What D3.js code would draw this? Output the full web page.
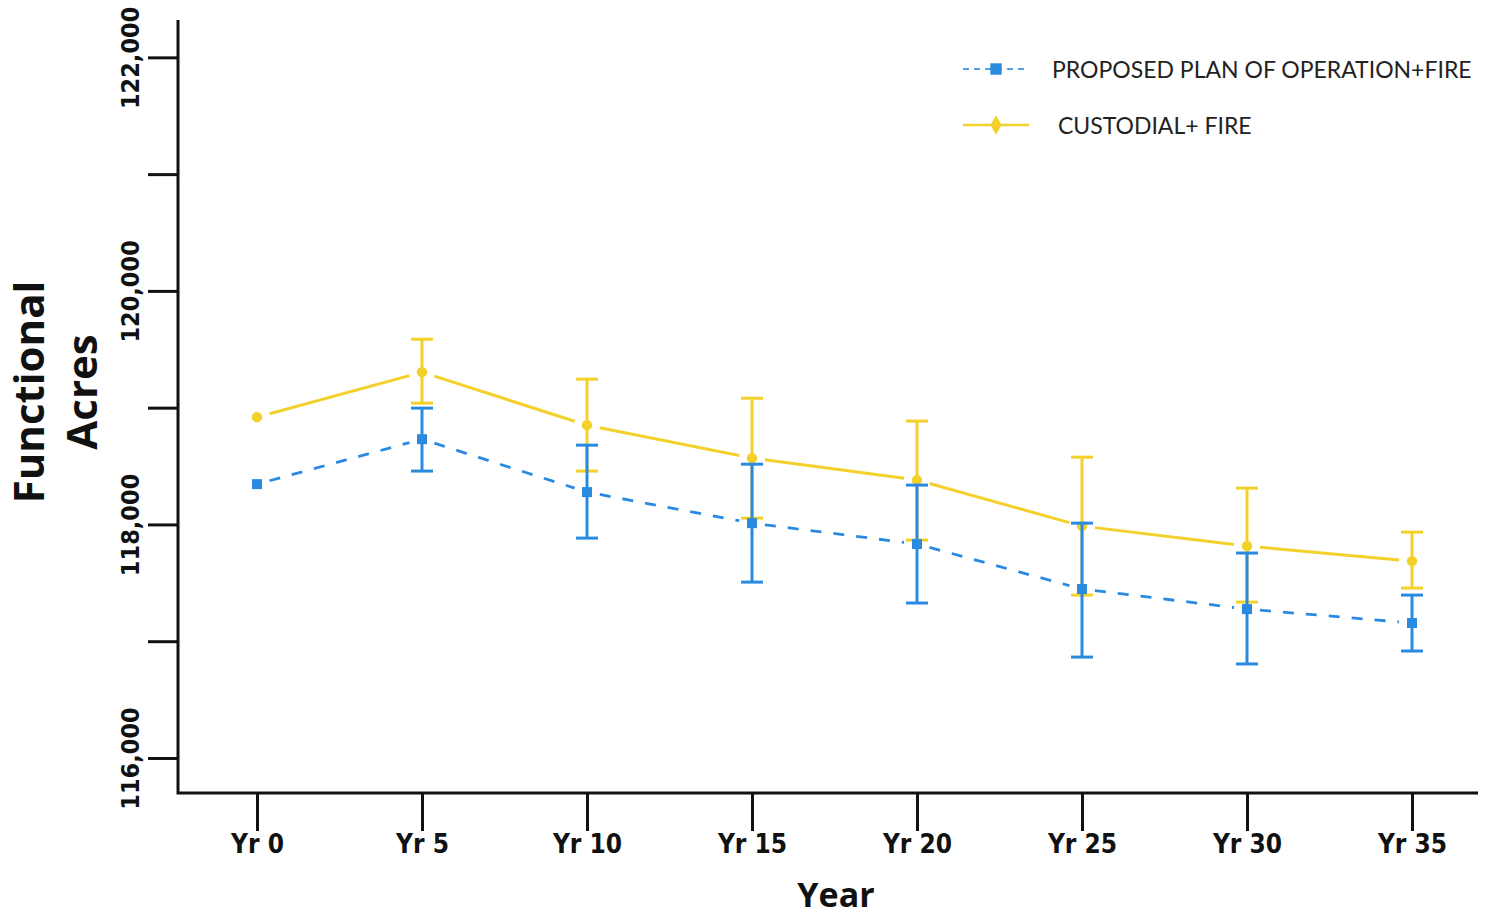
<!DOCTYPE html>
<html>
<head>
<meta charset="utf-8">
<script src="https://cdn.jsdelivr.net/npm/d3@7"></script>
<style>
  html, body { margin: 0; padding: 0; background: #fff; }
  svg { display: block; }
</style>
</head>
<body>
<svg id="chart" width="1493" height="917"></svg>
<script>
// ---- data ----
const years = ["Yr 0", "Yr 5", "Yr 10", "Yr 15", "Yr 20", "Yr 25", "Yr 30", "Yr 35"];
const proposedMean = [118345, 118730, 118277, 118011, 117832, 117447, 117275, 117156];
const proposedLow  = [null, 118457, 117883, 117506, 117327, 116864, 116805, 116916];
const proposedHigh = [null, 118996, 118679, 118516, 118337, 118011, 117755, 117395];
const custodialMean = [118919, 119304, 118850, 118568, 118380, 117986, 117815, 117686];
const custodialLow  = [null, 119039, 118457, 118054, 117866, 117395, 117335, 117455];
const custodialHigh = [null, 119586, 119244, 119081, 118885, 118576, 118311, 117934];
const yTickValues = [116000, 117000, 118000, 119000, 120000, 121000, 122000];
const yTickLabels = ["116,000", "", "118,000", "", "120,000", "", "122,000"];
const seriesNames = ["PROPOSED PLAN OF OPERATION+FIRE", " CUSTODIAL+ FIRE"];

const BLUE = "#2a8ae0";
const YELLOW = "#f4d02a";

const svg = d3.select("#chart");

const x = d3.scalePoint().domain(years).range([257, 1412]);
const y = d3.scaleLinear().domain([115700, 122320]).range([793, 20]);
const axisLeft = 178, axisRight = 1478;

// ---- axes ----
const yAxis = d3.axisLeft(y).tickValues(yTickValues).tickSize(30)
  .tickFormat((d, i) => yTickLabels[i]);
const gy = svg.append("g").attr("transform", `translate(${axisLeft},0)`).call(yAxis);
gy.select(".domain").remove();
gy.selectAll(".tick line").attr("stroke", "#111").attr("stroke-width", 3);
gy.selectAll(".tick text")
  .attr("x", null).attr("dy", null)
  .attr("transform", "translate(-39,0) rotate(-90)")
  .attr("text-anchor", "middle")
  .attr("font-family", "'DejaVu Sans Condensed', 'DejaVu Sans'")
  .attr("font-stretch", "condensed")
  .attr("font-weight", "bold")
  .attr("font-size", 25)
  .attr("fill", "#111");

const xAxis = d3.axisBottom(x).tickSize(38).tickSizeOuter(0);
const gx = svg.append("g").attr("transform", `translate(0,${y.range()[0]})`).call(xAxis);
gx.select(".domain").remove();
gx.selectAll(".tick line").attr("stroke", "#111").attr("stroke-width", 3);
gx.selectAll(".tick text")
  .attr("y", 60).attr("dy", null)
  .attr("font-family", "'DejaVu Sans Condensed', 'DejaVu Sans'")
  .attr("font-stretch", "condensed")
  .attr("font-weight", "bold")
  .attr("font-size", 26)
  .attr("fill", "#111");

// axis lines
svg.append("path")
  .attr("d", d3.line()([[axisLeft, y.range()[1]], [axisLeft, y.range()[0]], [axisRight, y.range()[0]]]))
  .attr("fill", "none").attr("stroke", "#111").attr("stroke-width", 3)
  .attr("stroke-linejoin", "miter");

// axis titles
const titleFont = "'Open Sans', 'DejaVu Sans', sans-serif";
svg.append("text").attr("transform", "translate(44,392) rotate(-90)")
  .attr("text-anchor", "middle").attr("font-family", titleFont)
  .attr("font-weight", "bold").attr("font-size", 42).attr("fill", "#111")
  .text("Functional");
svg.append("text").attr("transform", "translate(97,392) rotate(-90)")
  .attr("text-anchor", "middle").attr("font-family", titleFont)
  .attr("font-weight", "bold").attr("font-size", 42).attr("fill", "#111")
  .text("Acres");
svg.append("text").attr("x", 836).attr("y", 907)
  .attr("text-anchor", "middle").attr("font-family", titleFont)
  .attr("font-weight", "bold").attr("font-size", 34).attr("fill", "#111")
  .text("Year");

// ---- series ----
function drawSeries(mean, low, high, color, dashed, marker) {
  const g = svg.append("g");
  const pts = mean.map((v, i) => [x(years[i]), y(v)]);
  const trim = 13;
  for (let i = 0; i < pts.length - 1; i++) {
    const [x0, y0] = pts[i], [x1, y1] = pts[i + 1];
    const dx = x1 - x0, dy = y1 - y0, len = Math.hypot(dx, dy);
    const ux = dx / len, uy = dy / len;
    g.append("path")
      .attr("d", d3.line()([[x0 + ux * trim, y0 + uy * trim], [x1 - ux * trim, y1 - uy * trim]]))
      .attr("fill", "none").attr("stroke", color)
      .attr("stroke-width", dashed ? 2.8 : 3)
      .attr("stroke-dasharray", dashed ? "11,12" : null);
  }
  // error bars
  years.forEach((yr, i) => {
    if (low[i] == null) return;
    const cx = x(yr), yl = y(low[i]), yh = y(high[i]);
    g.append("line").attr("x1", cx).attr("x2", cx).attr("y1", yh).attr("y2", yl)
      .attr("stroke", color).attr("stroke-width", 3);
    [yl, yh].forEach(yy => g.append("line").attr("x1", cx - 11).attr("x2", cx + 11)
      .attr("y1", yy).attr("y2", yy).attr("stroke", color).attr("stroke-width", 3));
  });
  // markers
  g.selectAll("path.m").data(pts).join("path").attr("class", "m")
    .attr("transform", d => `translate(${d[0]},${d[1]})`)
    .attr("d", d3.symbol().type(marker).size(marker === d3.symbolSquare ? 100 : 85))
    .attr("fill", color);
}

drawSeries(custodialMean, custodialLow, custodialHigh, YELLOW, false, d3.symbolCircle);
drawSeries(proposedMean, proposedLow, proposedHigh, BLUE, true, d3.symbolSquare);

// ---- legend ----
const legend = svg.append("g");
const legendItems = [
  { name: seriesNames[0], color: BLUE, dashed: true, marker: d3.symbolSquare, y: 69 },
  { name: seriesNames[1], color: YELLOW, dashed: false, marker: d3.symbolDiamond, y: 125 }
];
legendItems.forEach(it => {
  legend.append("line").attr("x1", 963).attr("x2", 1029).attr("y1", it.y).attr("y2", it.y)
    .attr("stroke", it.color).attr("stroke-width", it.dashed ? 2 : 2.5)
    .attr("stroke-dasharray", it.dashed ? "6,5" : null).attr("opacity", it.dashed ? 0.8 : 1);
  legend.append("path").attr("transform", `translate(996,${it.y})`)
    .attr("d", d3.symbol().type(it.marker).size(it.dashed ? 130 : 110)).attr("fill", it.color);
  legend.append("text").attr("x", 1052).attr("y", it.y + 9)
    .attr("font-family", "'Lato', 'Open Sans', sans-serif").attr("font-size", 23)
    .attr("fill", "#222").style("white-space", "pre")
    .text(it.name);
});
</script>
</body>
</html>
